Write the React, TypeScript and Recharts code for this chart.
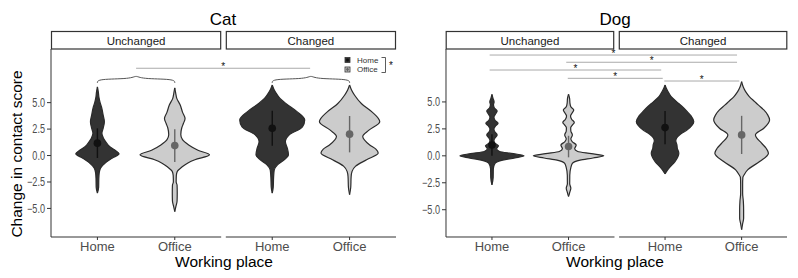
import React from 'react'
import { ComposedChart, Area, Line, Scatter, ErrorBar, XAxis, YAxis, ReferenceLine } from 'recharts'

const FONT = '"Liberation Sans", Arial, Helvetica, sans-serif'
const HOME_FILL = '#333333'
const OFFICE_FILL = '#cccccc'

// x slots: Unchanged Home/Office, Changed Home/Office (small facet gap built in)
const positions = [1, 2, 3.26, 4.26]
const places = ['Home', 'Office', 'Home', 'Office']
const yTicks = [-5, -2.5, 0, 2.5, 5]

// violin outlines: [change in contact score, half width]
const catUnchangedHome = [
  [-3.55, 0], [-3.0, 0.016], [-2.2, 0.018], [-1.66, 0.023], [-1.19, 0.04], [-0.72, 0.1], [-0.25, 0.19],
  [0.16, 0.28], [0.54, 0.22], [0.9, 0.15], [1.17, 0.12], [1.6, 0.08], [2.1, 0.058], [2.6, 0.075],
  [3.2, 0.09], [3.8, 0.075], [4.5, 0.056], [5.0, 0.035], [5.5, 0.02], [6.0, 0.012], [6.5, 0],
]
const catUnchangedOffice = [
  [-5.3, 0], [-4.8, 0.015], [-4.3, 0.03], [-3.5, 0.032], [-2.8, 0.03], [-2.5, 0.018], [-1.9, 0.02],
  [-1.5, 0.032], [-1.1, 0.09], [-0.7, 0.17], [-0.4, 0.26], [0.07, 0.45], [0.5, 0.3], [1.0, 0.18],
  [1.5, 0.1], [2.0, 0.078], [2.6, 0.09], [3.0, 0.11], [3.5, 0.133], [4.1, 0.1], [4.8, 0.069],
  [5.4, 0.026], [5.9, 0.012], [6.4, 0],
]
const catChangedHome = [
  [-3.55, 0], [-3.0, 0.013], [-2.0, 0.018], [-1.35, 0.026], [-0.9, 0.065], [-0.4, 0.155], [0.07, 0.21],
  [0.7, 0.195], [1.3, 0.17], [1.95, 0.22], [2.7, 0.39], [3.37, 0.42], [4.15, 0.32], [4.9, 0.18],
  [5.4, 0.1], [5.9, 0.05], [6.3, 0.02], [6.67, 0],
]
const catChangedOffice = [
  [-3.7, 0], [-3.0, 0.015], [-2.0, 0.02], [-1.5, 0.032], [-1.0, 0.078], [-0.4, 0.22], [0.23, 0.37],
  [0.6, 0.34], [1.0, 0.26], [1.8, 0.17], [2.4, 0.25], [3.2, 0.39], [4.15, 0.285], [4.9, 0.155],
  [5.7, 0.065], [6.2, 0.025], [6.67, 0],
]
const dogUnchangedHome = [
  [-2.69, 0], [-2.0, 0.016], [-1.2, 0.018], [-0.7, 0.04], [-0.4, 0.14], [-0.2, 0.3], [0, 0.42],
  [0.2, 0.28], [0.4, 0.1], [0.65, 0.06], [0.93, 0.085], [1.2, 0.035], [1.45, 0.026], [1.65, 0.04],
  [1.94, 0.068], [2.25, 0.035], [2.5, 0.026], [2.75, 0.045], [3.02, 0.08], [3.3, 0.04], [3.6, 0.026],
  [3.85, 0.045], [4.15, 0.068], [4.45, 0.03], [4.75, 0.02], [5.0, 0.028], [5.3, 0.015], [5.71, 0],
]
const dogUnchangedOffice = [
  [-3.77, 0], [-3.4, 0.015], [-3.0, 0.03], [-2.6, 0.015], [-1.8, 0.016], [-1.1, 0.03], [-0.7, 0.05],
  [-0.4, 0.15], [-0.2, 0.32], [0, 0.46], [0.2, 0.3], [0.4, 0.12], [0.65, 0.08], [1.0, 0.1], [1.3, 0.05],
  [1.55, 0.03], [1.94, 0.05], [2.3, 0.03], [2.6, 0.028], [2.85, 0.05], [3.1, 0.075], [3.4, 0.04],
  [3.7, 0.026], [3.95, 0.045], [4.26, 0.068], [4.55, 0.03], [4.9, 0.018], [5.3, 0.014], [5.71, 0],
]
const dogChangedHome = [
  [-1.67, 0], [-1.4, 0.025], [-1.14, 0.052], [-0.53, 0.13], [0.25, 0.18], [0.7, 0.16], [1.02, 0.155],
  [1.4, 0.14], [1.64, 0.15], [2.0, 0.2], [2.41, 0.29], [3.18, 0.375], [3.7, 0.34], [4.1, 0.29],
  [4.6, 0.22], [5.03, 0.15], [5.5, 0.08], [5.95, 0.04], [6.3, 0.015], [6.57, 0],
]
const dogChangedOffice = [
  [-6.85, 0], [-6.3, 0.013], [-5.8, 0.026], [-5.0, 0.026], [-4.2, 0.022], [-3.5, 0.013], [-2.6, 0.013],
  [-2.0, 0.016], [-1.76, 0.033], [-1.3, 0.078], [-0.53, 0.235], [0.25, 0.35], [0.7, 0.32], [1.17, 0.26],
  [1.94, 0.18], [2.56, 0.29], [3.33, 0.365], [3.8, 0.34], [4.26, 0.29], [4.7, 0.22], [5.03, 0.17],
  [5.5, 0.1], [5.95, 0.052], [6.4, 0.02], [6.88, 0],
]

// means and spread (error bar half length), same order as positions
const catMeans = [1.17, 0.94, 2.58, 2.02]
const catSpread = [1.4, 1.55, 1.65, 1.72]
const dogMeans = [1.0, 0.86, 2.62, 1.94]
const dogSpread = [1.0, 1.0, 1.55, 1.77]

// significance bars
const catSigFrom = [1.5]
const catSigTo = [3.75]
const catSigY = [8.25]
const dogSigFrom = [0.97, 1.97, 0.97, 1.99, 3.25]
const dogSigTo = [4.2, 4.2, 3.21, 3.23, 4.23]
const dogSigY = [9.35, 8.68, 7.96, 7.19, 6.94]
const braceLevels = [6.86, 7.24, 7.6]

const X_DOMAIN = [0.4, 4.86]
const PLOT_TOP = 49
const PLOT_H = 188
const AXIS_W = 40
const XAXIS_H = 25

function violinRows(outline: number[][], center: number) {
  return outline.map(([y, w]) => ({ y, band: [center - w, center + w] }))
}

function braceRows(a: number, b: number) {
  const [foot, bar, peak] = braceLevels
  const m = (a + b) / 2
  return [
    { y: foot, bx: a }, { y: bar, bx: a }, { y: bar, bx: m - 0.06 }, { y: peak, bx: m },
    { y: bar, bx: m + 0.06 }, { y: bar, bx: b }, { y: foot, bx: b },
  ]
}

const fmtY = (v: number) => v.toFixed(1).replace('-', '\u2212')

// the original tick labels are a bit condensed
const YTick = (props: any) => {
  const { x, y, payload } = props
  return (
    <g transform={`translate(${x},${y})`}>
      <text transform="scale(0.76,1)" textAnchor="end" dy="0.36em" fontSize={12} fill="#4d4d4d">
        {fmtY(payload.value)}
      </text>
    </g>
  )
}

interface PanelProps {
  plotLeft: number
  plotWidth: number
  yDomain: number[]
  violins: number[][][]
  means: number[]
  spreads: number[]
  sigFrom: number[]
  sigTo: number[]
  sigY: number[]
  braces?: boolean
}

function Panel({ plotLeft, plotWidth, yDomain, violins, means, spreads, sigFrom, sigTo, sigY, braces }: PanelProps) {
  const meanRows = positions.map((x, i) => ({ x, y: means[i], sd: spreads[i] }))
  const homeMeans = meanRows.filter((_, i) => i % 2 === 0)
  const officeMeans = meanRows.filter((_, i) => i % 2 === 1)

  return (
    <div style={{ position: 'absolute', left: plotLeft - AXIS_W, top: PLOT_TOP }}>
      <ComposedChart
        layout="vertical"
        width={plotWidth + AXIS_W}
        height={PLOT_H + XAXIS_H}
        margin={{ top: 0, right: 0, bottom: 0, left: 0 }}
      >
        <XAxis
          type="number"
          dataKey="x"
          domain={X_DOMAIN}
          allowDataOverflow
          ticks={positions}
          interval={0}
          tickFormatter={(v: number) => places[positions.indexOf(v)]}
          axisLine={false}
          tickLine={{ stroke: '#333' }}
          tickSize={3}
          tickMargin={2}
          height={XAXIS_H}
          tick={{ fontSize: 13, fill: '#4d4d4d' }}
        />
        {/* vertical layout puts low values on top, so flip it */}
        <YAxis
          type="number"
          dataKey="y"
          reversed
          domain={yDomain}
          allowDataOverflow
          ticks={yTicks}
          interval={0}
          width={AXIS_W}
          axisLine={{ stroke: '#333' }}
          tickLine={{ stroke: '#333' }}
          tickSize={4}
          tickMargin={2}
          tick={<YTick />}
        />

        {violins.map((v, i) => (
          <Area
            key={`violin-${i}`}
            data={violinRows(v, positions[i])}
            dataKey="band"
            type="monotone"
            fill={i % 2 === 0 ? HOME_FILL : OFFICE_FILL}
            fillOpacity={1}
            stroke="#2b2b2b"
            strokeWidth={1.2}
            dot={false}
            activeDot={false}
            isAnimationActive={false}
          />
        ))}

        <Scatter
          data={homeMeans}
          isAnimationActive={false}
          shape={(p: any) => <circle cx={p.cx} cy={p.cy} r={3.8} fill="#111" />}
        >
          <ErrorBar dataKey="sd" direction="y" width={0} stroke="#111" strokeWidth={1.4} />
        </Scatter>
        <Scatter
          data={officeMeans}
          isAnimationActive={false}
          shape={(p: any) => <circle cx={p.cx} cy={p.cy} r={3.8} fill="#666" />}
        >
          <ErrorBar dataKey="sd" direction="y" width={0} stroke="#666" strokeWidth={1.4} />
        </Scatter>

        {braces && (
          <Line data={braceRows(positions[0], positions[1])} dataKey="bx" type="basis" stroke="#555"
            strokeWidth={1} dot={false} activeDot={false} isAnimationActive={false} />
        )}
        {braces && (
          <Line data={braceRows(positions[2], positions[3])} dataKey="bx" type="basis" stroke="#555"
            strokeWidth={1} dot={false} activeDot={false} isAnimationActive={false} />
        )}

        {sigY.map((y, i) => (
          <ReferenceLine
            key={`sig-${i}`}
            segment={[{ x: sigFrom[i], y }, { x: sigTo[i], y }]}
            stroke="#aaaaaa"
            strokeWidth={1}
            ifOverflow="visible"
            label={{ value: '*', position: 'top', offset: -2, fontSize: 10, fill: '#111' }}
          />
        ))}

        {/* facetted bottom axis line */}
        <ReferenceLine segment={[{ x: 0.4, y: yDomain[0] }, { x: 2.6, y: yDomain[0] }]} stroke="#333" ifOverflow="visible" />
        <ReferenceLine segment={[{ x: 2.66, y: yDomain[0] }, { x: 4.86, y: yDomain[0] }]} stroke="#333" ifOverflow="visible" />
      </ComposedChart>
    </div>
  )
}

function Strips({ plotLeft, plotWidth }: { plotLeft: number; plotWidth: number }) {
  const k = plotWidth / (X_DOMAIN[1] - X_DOMAIN[0])
  const facets = [
    { label: 'Unchanged', from: 0.4, to: 2.6 },
    { label: 'Changed', from: 2.66, to: 4.86 },
  ]
  return (
    <>
      {facets.map((f) => {
        const x0 = plotLeft + (f.from - 0.4) * k
        const x1 = plotLeft + (f.to - 0.4) * k
        return (
          <g key={f.label}>
            <rect x={x0 + 0.5} y={31.5} width={x1 - x0 - 1} height={17.5} fill="#fff" stroke="#333" strokeWidth={1.2} />
            <text x={(x0 + x1) / 2} y={45} textAnchor="middle" fontSize={11.5} fill="#1a1a1a">{f.label}</text>
          </g>
        )
      })}
    </>
  )
}

export default function App() {
  const catLeft = 51
  const catWidth = 345
  const dogLeft = 445.7
  const dogWidth = 341.6

  return (
    <div style={{ position: 'absolute', left: 0, top: 0, width: 798, height: 278, background: '#fff', fontFamily: FONT }}>
      <Panel
        plotLeft={catLeft}
        plotWidth={catWidth}
        yDomain={[-7.7, 10.07]}
        violins={[catUnchangedHome, catUnchangedOffice, catChangedHome, catChangedOffice]}
        means={catMeans}
        spreads={catSpread}
        sigFrom={catSigFrom}
        sigTo={catSigTo}
        sigY={catSigY}
        braces
      />
      <Panel
        plotLeft={dogLeft}
        plotWidth={dogWidth}
        yDomain={[-7.53, 9.91]}
        violins={[dogUnchangedHome, dogUnchangedOffice, dogChangedHome, dogChangedOffice]}
        means={dogMeans}
        spreads={dogSpread}
        sigFrom={dogSigFrom}
        sigTo={dogSigTo}
        sigY={dogSigY}
      />

      <svg width={798} height={278} style={{ position: 'absolute', left: 0, top: 0, pointerEvents: 'none' }} fontFamily={FONT}>
        <text x={223} y={24.5} textAnchor="middle" fontSize={17} fill="#000">Cat</text>
        <text x={615} y={24.5} textAnchor="middle" fontSize={17} fill="#000">Dog</text>
        <Strips plotLeft={catLeft} plotWidth={catWidth} />
        <Strips plotLeft={dogLeft} plotWidth={dogWidth} />

        <text transform="translate(22,154) rotate(-90)" textAnchor="middle" fontSize={15.5} fill="#000">Change in contact score</text>
        <text x={224} y={267} textAnchor="middle" fontSize={15.5} fill="#000">Working place</text>
        <text x={615} y={267} textAnchor="middle" fontSize={15.5} fill="#000">Working place</text>

        {/* legend */}
        <rect x={345} y={57.5} width={5} height={5} fill={HOME_FILL} stroke="#333" strokeWidth={0.8} />
        <circle cx={347.5} cy={60} r={1.4} fill="#111" />
        <rect x={345} y={67} width={5} height={5} fill={OFFICE_FILL} stroke="#333" strokeWidth={0.8} />
        <line x1={347.5} y1={67.5} x2={347.5} y2={71.5} stroke="#666" strokeWidth={0.8} />
        <circle cx={347.5} cy={69.5} r={1.4} fill="#666" />
        <text x={357} y={62.5} fontSize={8} fill="#333">Home</text>
        <text x={357} y={72} fontSize={8} fill="#333">Office</text>
        <path d="M381.5 57.5 H385.5 V72.5 H381.5" fill="none" stroke="#333" strokeWidth={0.8} />
        <text x={391} y={69} textAnchor="middle" fontSize={10} fill="#111">*</text>
      </svg>
    </div>
  )
}
